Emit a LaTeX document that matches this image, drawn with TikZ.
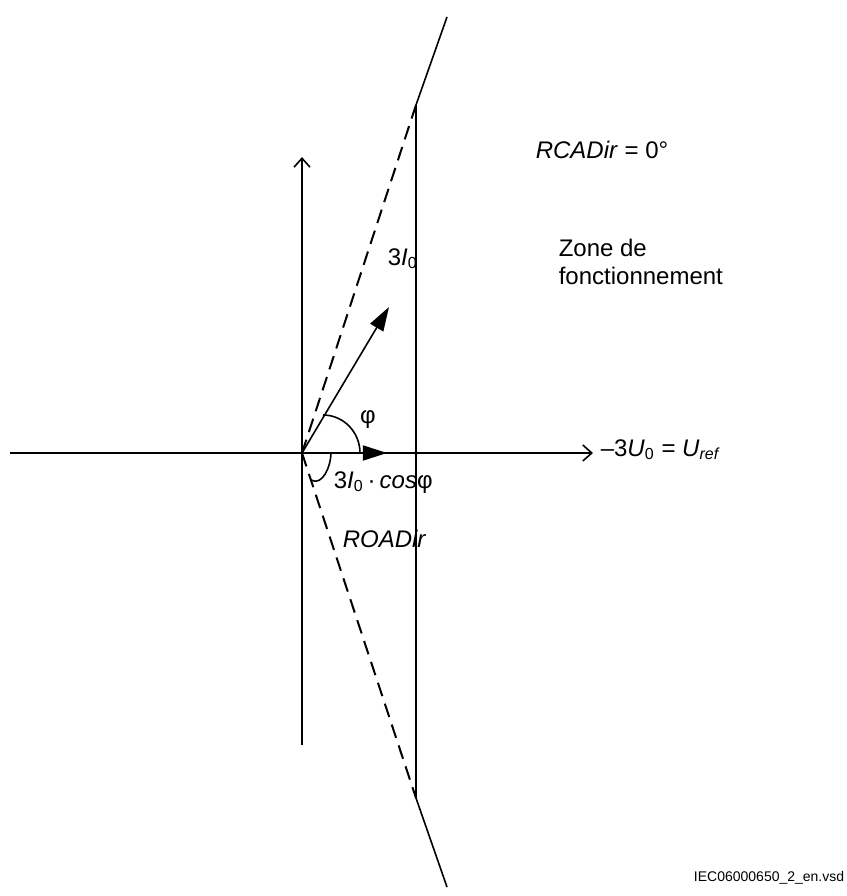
\documentclass[tikz,border=0pt]{standalone}
\usepackage{fontspec}
\setmainfont{Liberation Sans}
\usetikzlibrary{arrows.meta}

\begin{document}
\begin{tikzpicture}[x=0.5pt,y=0.5pt,line width=0.8pt,
  lbl/.style={font=\fontsize{12}{14}\selectfont,inner sep=0pt},
  axis/.style={-{Straight Barb[length=4.5pt,width=8pt]}},
  vec/.style={-{Triangle[length=12pt,width=7.5pt]}},
  bound/.style={line width=1pt,dash pattern=on 7pt off 4pt}]
\useasboundingbox (-302,-443) rectangle (545,453);

\coordinate (O) at (0,0);
\coordinate (W) at (-292,0);
\coordinate (E) at (291,0);
\coordinate (S) at (0,-292);
\coordinate (N) at (0,296);
\coordinate (T) at (114,348);
\coordinate (B) at (114,-345);
\coordinate (TT) at (145,436);
\coordinate (BB) at (145,-434);
\coordinate (I) at (87,146);
\coordinate (P) at (85,0);
\coordinate (phiA) at (21,38);
\coordinate (phiB) at (58,0);
\coordinate (roaA) at (29,0);
\coordinate (roaB) at (9,-27);

% axes
\draw[axis] (W) -- (E);
\draw[axis] (S) -- (N);

% limits of the zone
\draw (TT) -- (T) -- (B) -- (BB);
\draw[bound] (O) -- (T);
\draw[bound] (O) -- (B);

% current and its projection
\draw[vec] (O) -- (I);
\draw[vec] (O) -- (P);
\draw (phiA) to[out=0,in=90] (phiB);
\draw (roaA) to[out=-90,in=-30] (roaB);

\node[lbl,anchor=base west] (iz) at (85,188)
{3\textit{I}\textsubscript{0}};
\node[lbl] (phi) at (66,33)
{φ};
\node[lbl,anchor=base west] (proj) at (31,-35)
{3\textit{I}\textsubscript{0}\,·\,\textit{cos}φ};
\node[lbl,anchor=base west] (roa) at (40,-94)
{\textit{ROADir}};
\node[lbl,anchor=base west] (uref) at (298,-3)
{–3\textit{U}\textsubscript{0} = \textit{U}\textsubscript{\textit{ref}}};
\node[lbl,anchor=base west] (rca) at (233,295)
{\textit{RCADir} = 0°};
\node[lbl,anchor=north west,align=left] (zone) at (256,215)
{Zone de\\fonctionnement};
\node[anchor=base east,inner sep=0pt,font=\fontsize{7}{8}\selectfont] (ref) at (543,-428)
{IEC06000650\_2\_en.vsd};
\end{tikzpicture}
\end{document}
